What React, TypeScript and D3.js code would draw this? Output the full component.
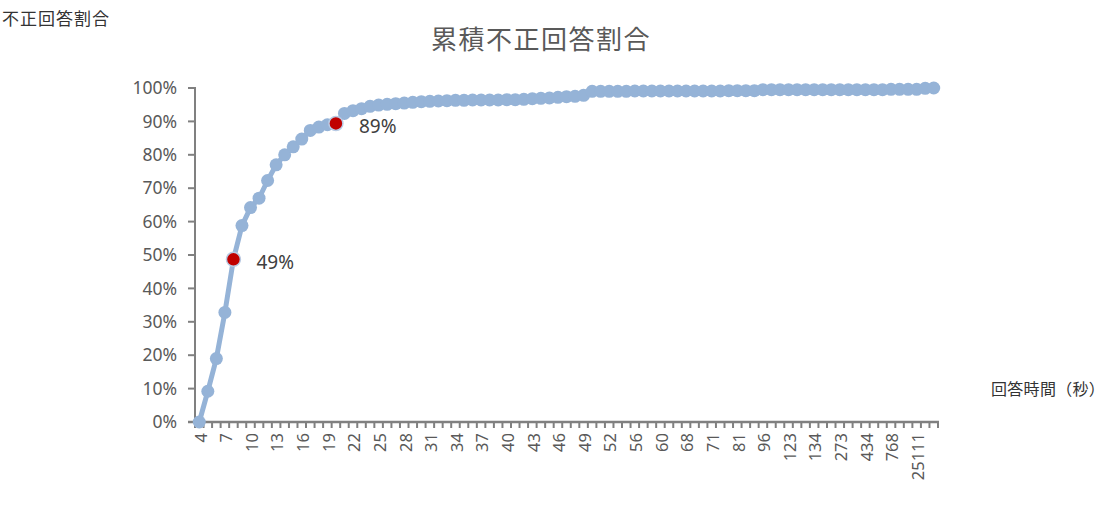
import React from "react";
import * as d3 from "d3";

const categories: string[] = [
  "4","5","6","7","8","9","10","11","12","13","14","15","16","17","18","19","20","21","22","23","24","25","26","27","28","29","30","31","32","33","34","35","36","37","38","39","40","41","42","43","44","45","46","47","48","49","50","51","52","53","54","56","57","58","60","62","65","68","69","70","71","74","77","81","85","90","96","105","115","123","127","130","134","150","200","273","300","380","434","500","600","768","1000","2000","25111","30000","40000"
];

const labeledTicks: string[] = [
  "4","7","10","13","16","19","22","25","28","31","34","37","40","43","46","49","52","56","60","68","71","81","96","123","134","273","434","768","25111"
];

const values: number[] = [
  0, 9.2, 19, 32.8, 48.7, 58.8, 64.2, 67, 72.3, 77, 80, 82.4, 84.7, 87.3, 88.3, 89.0, 89.4,
  92.4, 93.2, 93.8, 94.5, 94.9, 95.1, 95.3, 95.5, 95.7, 95.9, 96.0, 96.1, 96.2, 96.3, 96.3, 96.4,
  96.4, 96.4, 96.4, 96.5, 96.5, 96.6, 96.8, 96.9, 97.0, 97.2, 97.4, 97.5, 97.8,
  99.0, 99.0, 99.0, 99.0, 99.0, 99.1, 99.1, 99.1, 99.1, 99.1, 99.1, 99.1, 99.1, 99.1, 99.1, 99.1,
  99.2, 99.2, 99.2, 99.2,
  99.5, 99.5, 99.5, 99.5, 99.5, 99.5, 99.5, 99.5, 99.5, 99.5, 99.5, 99.5, 99.5, 99.5, 99.5, 99.6,
  99.6, 99.6, 99.6, 99.9, 100
];

const highlights: { cat: string; label: string }[] = [
  { cat: "8", label: "49%" },
  { cat: "20", label: "89%" },
];

const yTicks: number[] = [0, 10, 20, 30, 40, 50, 60, 70, 80, 90, 100];

const W = 1112;
const H = 514;
const left = 195;
const right = 938;
const top = 88;
const bottom = 422;

const CJK = "'Noto Sans CJK JP', 'Noto Sans', sans-serif";
const NUM = "'Noto Sans', 'Open Sans', sans-serif";

export default function App() {
  const x = d3.scaleBand<string>().domain(categories).range([left, right]).padding(0);
  const y = d3.scaleLinear().domain([0, 100]).range([bottom, top]);
  const cx = (c: string) => (x(c) as number) + x.bandwidth() / 2;

  const line = d3
    .line<number>()
    .x((_, i) => cx(categories[i]))
    .y((d) => y(d));

  const boundaries = categories.map((c) => x(c) as number).concat([right]);

  return (
    <svg width={W} height={H} style={{ position: "absolute", left: 0, top: 0 }}>
      <rect width={W} height={H} fill="#ffffff" />
      <text x={2} y={25} fontSize={17} letterSpacing={1} fill="#333" fontFamily={CJK}>
        不正回答割合
      </text>
      <text x={541} y={49} fontSize={26} letterSpacing={1.5} fill="#595959" textAnchor="middle" fontFamily={CJK}>
        累積不正回答割合
      </text>
      <text x={991} y={395} fontSize={16} letterSpacing={0.3} fill="#333" fontFamily={CJK}>
        回答時間（秒）
      </text>

      {/* y axis */}
      <line x1={left} x2={left} y1={top - 1} y2={bottom} stroke="#808080" strokeWidth={2} />
      {yTicks.map((t) => (
        <g key={t}>
          <line x1={left - 7} x2={left} y1={y(t)} y2={y(t)} stroke="#808080" strokeWidth={2} />
          <text
            x={177}
            y={y(t)}
            dy="0.35em"
            fontSize={17.5}
            fill="#595959"
            textAnchor="end"
            fontFamily={NUM}
          >
            {t}%
          </text>
        </g>
      ))}

      {/* x axis */}
      <line x1={left - 7} x2={right + 1} y1={bottom} y2={bottom} stroke="#808080" strokeWidth={2.5} />
      {boundaries.map((b, i) => (
        <line key={i} x1={b} x2={b} y1={bottom} y2={bottom + 6} stroke="#808080" strokeWidth={2} />
      ))}
      {labeledTicks.map((c) => (
        <text
          key={c}
          transform={`translate(${cx(c) + 1.5},${bottom + 11}) rotate(-90)`}
          dy="0.35em"
          fontSize={16.5}
          fill="#595959"
          textAnchor="end"
          fontFamily={NUM}
        >
          {c}
        </text>
      ))}

      {/* line */}
      <path d={line(values) || ""} fill="none" stroke="#95b3d7" strokeWidth={5} strokeLinejoin="round" />
      {values.map((v, i) => (
        <circle key={i} cx={cx(categories[i])} cy={y(v)} r={6.5} fill="#95b3d7" />
      ))}

      {highlights.map((h) => {
        const i = categories.indexOf(h.cat);
        const v = values[i];
        return (
          <g key={h.cat}>
            <circle cx={cx(h.cat)} cy={y(v)} r={7} fill="#c00000" stroke="#b9cbe4" strokeWidth={1.5} />
            <text
              x={cx(h.cat) + 23}
              y={y(v) + 3}
              dy="0.35em"
              fontSize={19}
              fill="#404040"
              fontFamily={NUM}
            >
              {h.label}
            </text>
          </g>
        );
      })}
    </svg>
  );
}
